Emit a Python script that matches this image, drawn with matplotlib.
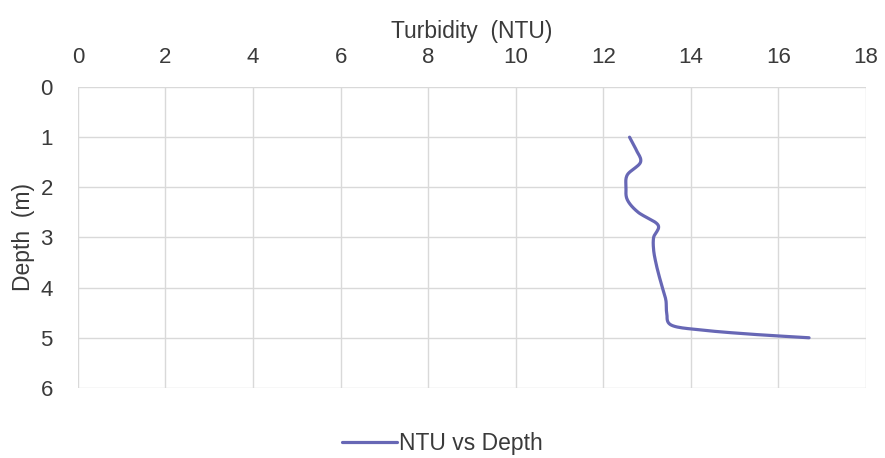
import numpy as np
import matplotlib.pyplot as plt

# Turbidity profile
depth = [1.0, 1.25, 1.5, 1.75, 2.0, 2.25, 2.5, 2.75, 3.0, 3.25, 3.5, 3.75, 4.0, 4.25, 4.5, 4.75, 4.85, 4.93, 5.0]
ntu = [12.6, 12.75, 12.85, 12.55, 12.52, 12.55, 12.8, 13.25, 13.15, 13.15, 13.2, 13.27, 13.35, 13.43, 13.45, 13.56, 14.3, 15.4, 16.7]

x_ticks = np.arange(0, 19, 2)
y_ticks = np.arange(0, 7, 1)


# Excel-style smoothed line (Catmull-Rom through the points)
def smooth(xs, ys, n=12):
    p = np.column_stack([xs, ys])
    p = np.vstack([p[0], p, p[-1]])
    out = []
    t = np.linspace(0, 1, n, endpoint=False)[:, None]
    for i in range(1, len(p) - 2):
        p0, p1, p2, p3 = p[i - 1], p[i], p[i + 1], p[i + 2]
        seg = 0.5 * ((2 * p1) + (-p0 + p2) * t + (2 * p0 - 5 * p1 + 4 * p2 - p3) * t ** 2
                     + (-p0 + 3 * p1 - 3 * p2 + p3) * t ** 3)
        out.append(seg)
    out.append(p[-2][None, :])
    out = np.vstack(out)
    return out[:, 0], out[:, 1]


plt.rcParams['font.family'] = ['Liberation Sans', 'DejaVu Sans']
text_col = '#3a3a3a'

fig = plt.figure(figsize=(8.85, 4.58), dpi=100)
ax = fig.add_axes([0.088, 0.153, 0.8905, 0.657])

sx, sy = smooth(ntu, depth)
ax.plot(sx, sy, color='#6767b5', lw=2.3, label='NTU vs Depth', solid_capstyle='round')

ax.set_xlim(0, 18)
ax.set_ylim(6, 0)
ax.set_xticks(x_ticks)
ax.set_yticks(y_ticks)
ax.xaxis.tick_top()
ax.xaxis.set_label_position('top')
ax.set_xlabel('Turbidity  (NTU)', fontsize=16.5, color=text_col, labelpad=6)
ax.set_ylabel('Depth  (m)', fontsize=16.5, color=text_col, labelpad=4)
ax.tick_params(axis='x', length=0, labelsize=16, labelcolor=text_col, pad=14)
ax.tick_params(axis='y', length=0, labelsize=16, labelcolor=text_col, pad=18)
ax.grid(True, color='#d9d9d9', lw=1)
for s in ax.spines.values():
    s.set_visible(False)
ax.set_axisbelow(True)

fig.legend(loc='lower center', bbox_to_anchor=(0.5, -0.038), frameon=False, fontsize=16.5,
           handlelength=2.4, handletextpad=0.1, labelcolor=text_col)

fig.savefig('out.png', dpi=100)
